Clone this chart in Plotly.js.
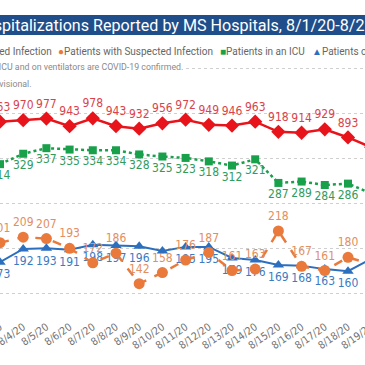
<!DOCTYPE html>
<html><head><meta charset="utf-8">
<script src="https://cdn.plot.ly/plotly-3.0.1.min.js"></script>
<style>html,body{margin:0;padding:0;overflow:hidden;background:#fff}#chart{width:380px;height:365px}</style>
</head><body><div id="chart"></div>
<script>
const dates = ['8/3/20','8/4/20','8/5/20','8/6/20','8/7/20','8/8/20','8/9/20','8/10/20','8/11/20','8/12/20','8/13/20','8/14/20','8/15/20','8/16/20','8/17/20','8/18/20','8/19/20'];
const confirmed = [963,970,977,943,978,943,932,956,972,949,946,963,918,914,929,893,850];
const suspected = [201,209,207,193,172,186,142,158,176,187,161,163,218,167,161,180,170];
const icu       = [314,329,337,335,334,334,328,325,323,318,312,321,287,289,284,286,272];
const vent      = [173,192,193,191,198,197,196,189,195,195,179,176,169,168,163,160,178];
const hiddenLabels = {confirmed:['8/19/20'], suspected:['8/19/20'], icu:['8/19/20'], vent:['8/10/20','8/19/20']};
const seriesNames = ['Patients with Confirmed Infection','Patients with Suspected Infection','Patients in an ICU','Patients on Ventilators'];
const titleText = 'Hospitalizations Reported by MS Hospitals, 8/1/20-8/21/20';

const W = 380, H = 365, PH = 308, STEP = 23.2;
const numFont = '"Liberation Sans Narrow","DejaVu Sans Condensed",Roboto,sans-serif';
function labels(vals, key){ return vals.map((v,i)=> hiddenLabels[key].includes(dates[i]) ? '' : String(v)); }
function measure(t, font){ const c=document.createElement('canvas').getContext('2d'); c.font=font; return c.measureText(t).width; }
const px = x => x / W, py = y => 1 - y / PH;

const C = {red:'#E8141C', green:'#18A04B', orange:'#E97A3B', blue:'#2C6FBE'};
const traces = [
 {name:seriesNames[0], x:dates, y:confirmed, yaxis:'y', mode:'lines+markers+text', text:labels(confirmed,'confirmed'), textposition:'top center',
  line:{color:C.red,width:2.5}, marker:{symbol:'diamond',size:11,color:C.red}, textfont:{family:numFont,size:12,color:'#D9434B'}, cliponaxis:true},
 {name:seriesNames[2], x:dates, y:icu, yaxis:'y2', mode:'lines+markers+text', text:labels(icu,'icu'), textposition:'bottom center',
  line:{color:C.green,width:2.5,dash:'dot'}, marker:{symbol:'square',size:8,color:C.green}, textfont:{family:numFont,size:12,color:'#2E9C5C'}, cliponaxis:true},
 {name:seriesNames[3], x:dates, y:vent, yaxis:'y2', mode:'lines+markers+text', text:labels(vent,'vent'), textposition:'bottom center',
  line:{color:C.blue,width:2}, marker:{symbol:'triangle-up',size:10,color:C.blue}, textfont:{family:numFont,size:12,color:'#3B7BC2'}, cliponaxis:true},
 {name:seriesNames[1], x:dates, y:suspected, yaxis:'y2', mode:'lines+markers+text', text:labels(suspected,'suspected'), textposition:'top center',
  line:{color:C.orange,width:2.5,dash:'dash'}, marker:{symbol:'circle',size:11,color:C.orange}, textfont:{family:numFont,size:12,color:'#E38E5E'}, cliponaxis:true}
];

const titleSize = 16.1;
const hosW = measure('Hos', titleSize + 'px Roboto');
const legFont = {family:'Roboto, sans-serif', size:10, color:'#666'};
const subFont = {family:'Roboto, sans-serif', size:8.8, color:'#8a8a8a'};
const annotations = [
 {text:titleText, xref:'paper', yref:'paper', x:px(-hosW), y:py(25), xanchor:'left', yanchor:'middle', showarrow:false, font:{family:'Roboto',size:titleSize,color:'#fff'}},
 {text:'<span style="color:'+C.red+'">◆</span> '+seriesNames[0], xref:'paper', yref:'paper', x:px(54), y:py(51), xanchor:'right', yanchor:'middle', showarrow:false, font:legFont},
 {text:'<span style="color:'+C.orange+'">●</span>'+seriesNames[1], xref:'paper', yref:'paper', x:px(56), y:py(51), xanchor:'left', yanchor:'middle', showarrow:false, font:legFont},
 {text:'<span style="color:'+C.green+'">■</span>'+seriesNames[2], xref:'paper', yref:'paper', x:px(218), y:py(51), xanchor:'left', yanchor:'middle', showarrow:false, font:legFont},
 {text:'<span style="color:'+C.blue+'">▲</span>'+seriesNames[3], xref:'paper', yref:'paper', x:px(310), y:py(51), xanchor:'left', yanchor:'middle', showarrow:false, font:legFont},
 {text:'*All patients in an ICU and on ventilators are COVID-19 confirmed.', xref:'paper', yref:'paper', x:px(185), y:py(67), xanchor:'right', yanchor:'middle', showarrow:false, bgcolor:'#fff', font:subFont},
 {text:'**Data are provisional.', xref:'paper', yref:'paper', x:px(34), y:py(84), xanchor:'right', yanchor:'middle', showarrow:false, font:subFont}
];

const layout = {
 width:W, height:H, margin:{l:0,r:0,t:0,b:H-PH}, paper_bgcolor:'#fff', plot_bgcolor:'#fff', showlegend:false,
 xaxis:{type:'category', range:[0, W/STEP], showgrid:false, zeroline:false, showline:false, ticks:'', tickangle:-35, ticklabelstandoff:10,
        tickfont:{family:numFont,size:10.5,color:'#707070'}, fixedrange:true},
 yaxis:{range:[(338.4-PH)/0.225, 338.4/0.225], tickvals:[200,400,600,800,1000,1200], showticklabels:false,
        gridcolor:'#cfcfcf', griddash:'dot', gridwidth:1, zeroline:false, fixedrange:true},
 yaxis2:{overlaying:'y', range:[(382.4-PH)/0.695, 382.4/0.695], showgrid:false, showticklabels:false, zeroline:false, fixedrange:true},
 shapes:[{type:'rect', xref:'paper', yref:'paper', x0:-0.1, x1:1.1, y0:py(35), y1:py(15), fillcolor:'#1F4E8A', line:{width:0}}],
 annotations:annotations
};
Plotly.newPlot('chart', traces, layout, {staticPlot:true, displayModeBar:false});
</script></body></html>
